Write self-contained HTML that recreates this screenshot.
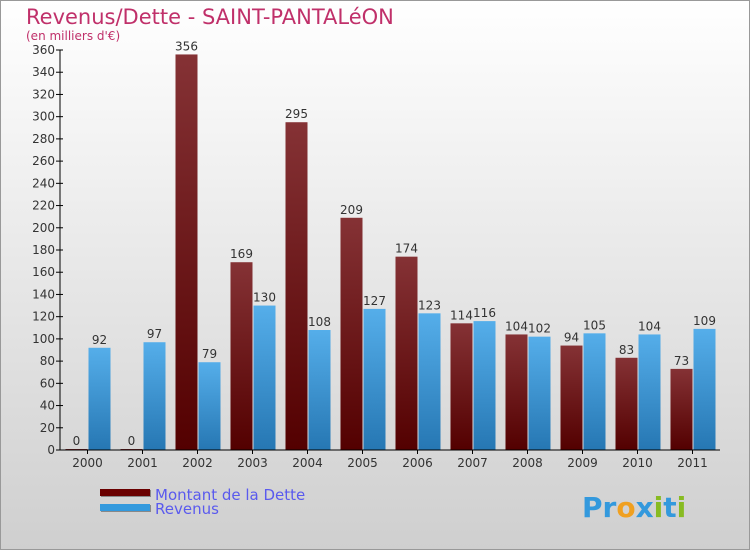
<!DOCTYPE html>
<html><head><meta charset="utf-8"><style>
body{margin:0}
#c{width:750px;height:550px;position:relative;overflow:hidden;font-family:"DejaVu Sans","Liberation Sans",sans-serif}
</style></head><body>
<div id="c">
<svg id="s" width="750" height="550" xmlns="http://www.w3.org/2000/svg">
<defs>
<linearGradient id="bg" x1="0" y1="0" x2="0" y2="1"><stop offset="0" stop-color="#ffffff"/><stop offset="1" stop-color="#cfcfcf"/></linearGradient>
<linearGradient id="gd" x1="0" y1="0" x2="0" y2="1"><stop offset="0" stop-color="#853235"/><stop offset="1" stop-color="#530000"/></linearGradient>
<linearGradient id="gr" x1="0" y1="0" x2="0" y2="1"><stop offset="0" stop-color="#55aeea"/><stop offset="1" stop-color="#2677b3"/></linearGradient>
</defs>
<rect x="0.5" y="0.5" width="749" height="549" fill="url(#bg)" stroke="#999"/>
<text x="26" y="24" font-size="21" fill="#c0306a">Revenus/Dette - SAINT-PANTALéON</text>
<text x="26" y="40" font-size="12" fill="#c0306a">(en milliers d'€)</text>
<g id="plot"></g>
<g>
<rect x="101" y="490" width="50" height="7" fill="#888"/><rect x="100" y="489" width="50" height="7" fill="#6a0000"/>
<text x="155" y="500" font-size="15" fill="#5a5aee">Montant de la Dette</text>
<rect x="101" y="505" width="50" height="7" fill="#888"/><rect x="100" y="504" width="50" height="7" fill="#3399dd"/>
<text x="155" y="514" font-size="15" fill="#5a5aee">Revenus</text>
</g>
<text x="582" y="517" font-size="28" font-weight="bold"><tspan fill="#3399dd">Pr</tspan><tspan fill="#f0a020">o</tspan><tspan fill="#3399dd">x</tspan><tspan fill="#88bb22">i</tspan><tspan fill="#3399dd">t</tspan><tspan fill="#88bb22">i</tspan></text>
</svg>
</div>
<script>
const years=["2000","2001","2002","2003","2004","2005","2006","2007","2008","2009","2010","2011"];
const dette=[0,0,356,169,295,209,174,114,104,94,83,73];
const revenus=[92,97,79,130,108,127,123,116,102,105,104,109];
const yTicks=[0,20,40,60,80,100,120,140,160,180,200,220,240,260,280,300,320,340,360];
const NS="http://www.w3.org/2000/svg";
const g=document.getElementById('plot');
const x0=60,cw=55,yb=450,yt=50,ymax=360;
const y=v=>yb-(v/ymax)*(yb-yt);
const cx=i=>x0+cw/2+cw*i;
function el(t,a){const e=document.createElementNS(NS,t);for(const k in a)e.setAttribute(k,a[k]);g.appendChild(e);return e;}
yTicks.forEach(v=>{
 const l=el('line',{x1:x0-4,x2:x0+3,y1:y(v),y2:y(v),stroke:'#000'});
 
 
 const t=el('text',{x:x0-5,y:y(v)+4,'font-size':12,'text-anchor':'end',fill:'#333'});
 t.textContent=v;
 
 
});
years.forEach((yr,i)=>{
 const c=cx(i);
 const hd=Math.max(yb-y(dette[i]),1);
 const b1=el('rect',{x:c-22,y:yb-hd,width:22,height:hd,fill:'url(#gd)'});
 
 
 const t1=el('text',{x:c-11,y:yb-hd-4,'font-size':12,'text-anchor':'middle',fill:'#333'});
 t1.textContent=dette[i];
 
 
 const hr=yb-y(revenus[i]);
 const b2=el('rect',{x:c+1,y:yb-hr,width:22,height:hr,fill:'url(#gr)'});
 
 
 const t2=el('text',{x:c+12,y:yb-hr-4,'font-size':12,'text-anchor':'middle',fill:'#333'});
 t2.textContent=revenus[i];
 
 
 const tk=el('line',{x1:c,x2:c,y1:yb,y2:yb+4,stroke:'#000'});
 
 
 const xl=el('text',{x:c,y:yb+17,'font-size':12,'text-anchor':'middle',fill:'#333'});
 xl.textContent=yr;
 
 
});
const ya=el('line',{x1:x0,x2:x0,y1:yt,y2:yb,stroke:'#000'});


const xa=el('line',{x1:x0,x2:x0+cw*12,y1:yb,y2:yb,stroke:'#000'});


</script>
</body></html>
